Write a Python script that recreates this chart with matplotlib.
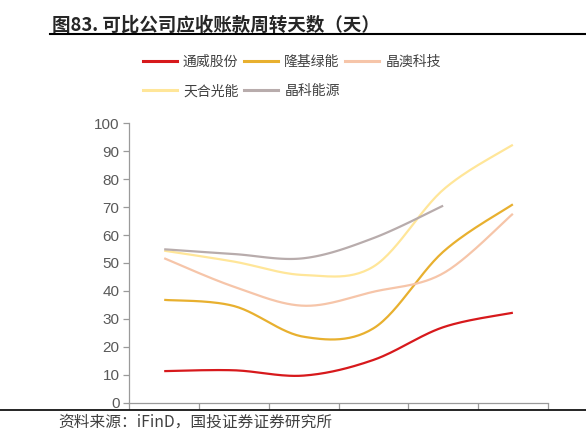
import numpy as np
import matplotlib
matplotlib.use("Agg")
import matplotlib.pyplot as plt
from matplotlib.lines import Line2D

plt.rcParams['font.family'] = ['Noto Sans CJK SC', 'DejaVu Sans']

# six periods (labels not shown in the source chart)
periods = [0, 1, 2, 3, 4, 5]

tongwei = [11.3, 11.6, 9.7, 15.3, 27.0, 32.2]
longi = [36.8, 34.6, 23.6, 26.6, 54.0, 71.0]
jaso = [51.7, 41.5, 34.7, 39.7, 46.3, 67.6]
trina = [54.4, 50.5, 45.7, 48.7, 76.2, 92.3]
jinko = [54.9, 53.2, 51.7, 58.9, 70.5]

names = ["通威股份", "隆基绿能", "晶澳科技", "天合光能", "晶科能源"]
colors = ["#D7191C", "#E8B02F", "#F6C5A9", "#FFE699", "#B8ACAC"]
series = [tongwei, longi, jaso, trina, jinko]


def smooth(xs, ys, n=30):
    # Catmull-Rom curve through the points, like a smoothed office line
    xs = np.asarray(xs, float)
    ys = np.asarray(ys, float)
    px = np.concatenate([[xs[0]], xs, [xs[-1]]])
    py = np.concatenate([[ys[0]], ys, [ys[-1]]])
    ox, oy = [], []
    t = np.linspace(0, 1, n)
    for i in range(1, len(px) - 2):
        for p, out in ((px, ox), (py, oy)):
            p0, p1, p2, p3 = p[i - 1], p[i], p[i + 1], p[i + 2]
            c1 = p1 + (p2 - p0) / 6
            c2 = p2 - (p3 - p1) / 6
            out.extend((1 - t) ** 3 * p1 + 3 * (1 - t) ** 2 * t * c1
                       + 3 * (1 - t) * t ** 2 * c2 + t ** 3 * p2)
    return ox, oy


fig = plt.figure(figsize=(5.86, 4.4), dpi=100)
ax = fig.add_axes([0.2207, 0.0848, 0.714, 0.635])

handles = []
for name, vals, c in zip(names, series, colors):
    sx, sy = smooth(periods[:len(vals)], vals)
    ax.plot(sx, sy, color=c, lw=1.6, solid_capstyle="butt")
    handles.append(Line2D([], [], color=c, lw=2.2))

ax.set_xlim(-0.5, 5.5)
ax.set_ylim(0, 100)
ax.set_yticks(range(0, 101, 10))
ax.set_xticks(np.arange(-0.5, 5.6, 1))
ax.set_xticklabels([])
for s in ("top", "right"):
    ax.spines[s].set_visible(False)
for s in ("left", "bottom"):
    ax.spines[s].set_color("#9a9a9a")
    ax.spines[s].set_linewidth(0.9)
ax.tick_params(axis="both", colors="#9a9a9a", length=4, width=0.9)
ax.tick_params(axis="y", labelcolor="#595959", labelsize=11, pad=3)
for lab in ax.get_yticklabels():
    lab.set_family(["Liberation Sans", "DejaVu Sans"])

# legend fills column by column, so reorder to read row by row
order = [0, 3, 1, 4, 2]
leg = fig.legend([handles[i] for i in order], [names[i] for i in order],
                 ncol=3, loc="upper left",
                 bbox_to_anchor=(0.234, 0.887), frameon=False,
                 fontsize=10, handlelength=2.45, handletextpad=0.45,
                 columnspacing=0.4, labelspacing=1.08, borderaxespad=0)
for t in leg.get_texts():
    t.set_color("#404040")

fig.text(0.089, 0.943, "图83. 可比公司应收账款周转天数（天）", fontsize=13.3,
         fontweight="bold", color="#262626", va="center", ha="left")
fig.add_artist(Line2D([0.085, 1.0], [0.922, 0.922], color="black", lw=1.5))
fig.add_artist(Line2D([0.0, 1.0], [0.068, 0.068], color="black", lw=1.2))
fig.text(0.099, 0.041, "资料来源：iFinD，国投证券证券研究所", fontsize=11.3,
         style="italic", color="#404040", va="center", ha="left")

fig.savefig("out.png", dpi=100)
